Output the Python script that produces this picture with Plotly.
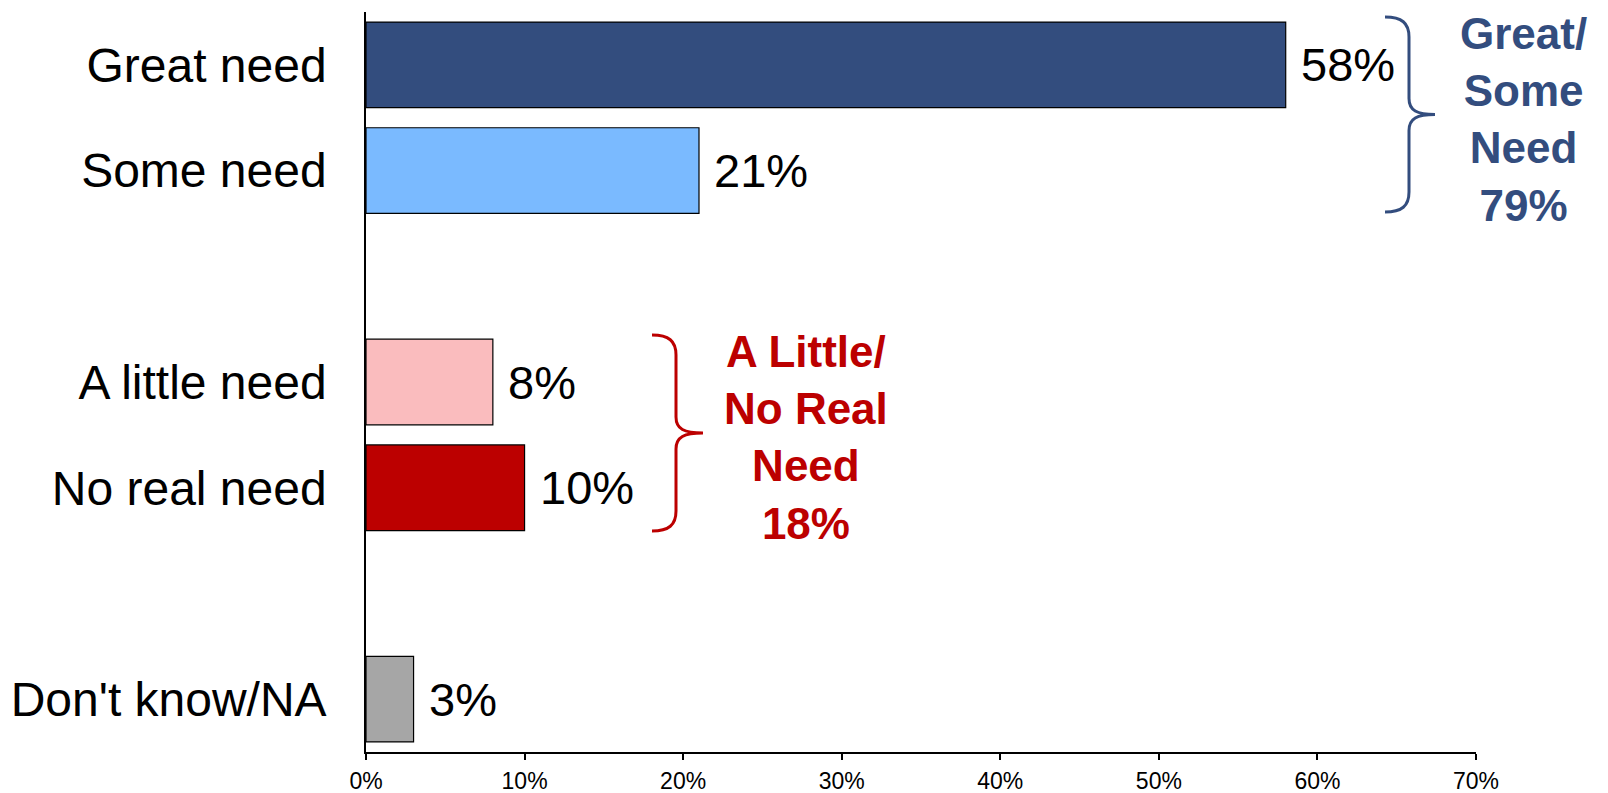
import plotly.graph_objects as go

# data
categories = ["Great need", "Some need", "A little need", "No real need", "Don't know/NA"]
values = [0.58, 0.21, 0.08, 0.10, 0.03]
bar_colors = ["#334D7E", "#7ABAFF", "#FABCBE", "#BC0000", "#A6A6A6"]
# category order incl. blank spacer rows
category_order = ["Great need", "Some need", " ", "A little need", "No real need", "  ", "Don't know/NA"]
x_ticks = [0, 0.1, 0.2, 0.3, 0.4, 0.5, 0.6, 0.7]
x_ticktext = ["0%", "10%", "20%", "30%", "40%", "50%", "60%", "70%"]
group_labels = ["Great/<br>Some<br>Need<br>79%", "A Little/<br>No Real<br>Need<br>18%"]
group_colors = ["#334D7E", "#BC0000"]

W, H = 1608, 793
OFF = 8  # page body margin
ML, MR, MT, MB = 358, 140, 4, 49
PW, PH = W - ML - MR, H - MT - MB


def px2paper(x, y):
    # screen pixel -> paper coords
    x, y = x - OFF, y - OFF
    return (x - ML) / PW, (H - MB - y) / PH


def brace(x0, y0, y1, xv, xt):
    # curly brace opening to the left
    ym = (y0 + y1) / 2
    pts = [
        ("M", [(x0, y0)]),
        ("C", [(x0 + (xv - x0) * 0.7, y0), (xv, y0 + 6), (xv, y0 + 20)]),
        ("L", [(xv, ym - 16)]),
        ("C", [(xv, ym - 4), (xv + 8, ym), (xt, ym)]),
        ("C", [(xv + 8, ym), (xv, ym + 4), (xv, ym + 16)]),
        ("L", [(xv, y1 - 20)]),
        ("C", [(xv, y1 - 6), (x0 + (xv - x0) * 0.7, y1), (x0, y1)]),
    ]
    s = ""
    for cmd, ps in pts:
        s += cmd + " " + " ".join("%.5f,%.5f" % px2paper(*p) for p in ps) + " "
    return s.strip()


fig = go.Figure()
fig.add_trace(go.Bar(
    x=values,
    y=categories,
    orientation="h",
    marker=dict(color=bar_colors, line=dict(color="#000000", width=1.2)),
    hoverinfo="skip",
))

# value labels
for c, v in zip(categories, values):
    fig.add_annotation(
        x=v, y=c, xref="x", yref="y",
        text="%d%%" % round(v * 100),
        showarrow=False, xanchor="left", yanchor="middle",
        xshift=13,
        font=dict(family="Liberation Sans, Arial", size=47, color="#000000"),
    )

# braces
fig.add_shape(type="path", xref="paper", yref="paper",
              path=brace(1385, 17, 212, 1409, 1435),
              line=dict(color=group_colors[0], width=3))
fig.add_shape(type="path", xref="paper", yref="paper",
              path=brace(652, 335, 531, 676, 703),
              line=dict(color=group_colors[1], width=3))

bx, by = px2paper(1523, 120)
fig.add_annotation(x=bx, y=by, xref="paper", yref="paper", text="<b>" + group_labels[0] + "</b>",
                   showarrow=False, xanchor="center", yanchor="middle", align="center",
                   font=dict(family="Liberation Sans, Arial", size=44, color=group_colors[0]))
rx, ry = px2paper(806, 437)
fig.add_annotation(x=rx, y=ry, xref="paper", yref="paper", text="<b>" + group_labels[1] + "</b>",
                   showarrow=False, xanchor="center", yanchor="middle", align="center",
                   font=dict(family="Liberation Sans, Arial", size=44, color=group_colors[1]))

fig.update_layout(
    width=W, height=H,
    margin=dict(l=ML, r=MR, t=MT, b=MB, autoexpand=False),
    plot_bgcolor="white", paper_bgcolor="white",
    bargap=0.19,
    showlegend=False,
    font=dict(family="Liberation Sans, Arial", color="#000000"),
    xaxis=dict(
        range=[0, 0.7], tickvals=x_ticks, ticktext=x_ticktext,
        showgrid=False, zeroline=False, automargin=False,
        showline=True, linecolor="#000000", linewidth=1.5,
        ticks="outside", ticklen=6, tickwidth=1.5, tickcolor="#000000",
        ticklabelstandoff=2,
        tickfont=dict(size=23, color="#000000"),
    ),
    yaxis=dict(
        type="category", categoryorder="array", categoryarray=category_order,
        autorange="reversed", automargin=False,
        showgrid=False, zeroline=False,
        showline=True, linecolor="#000000", linewidth=1.5,
        ticks="", ticklabelstandoff=28,
        tickfont=dict(size=48, color="#000000"),
    ),
)

fig.write_html("out.html")
